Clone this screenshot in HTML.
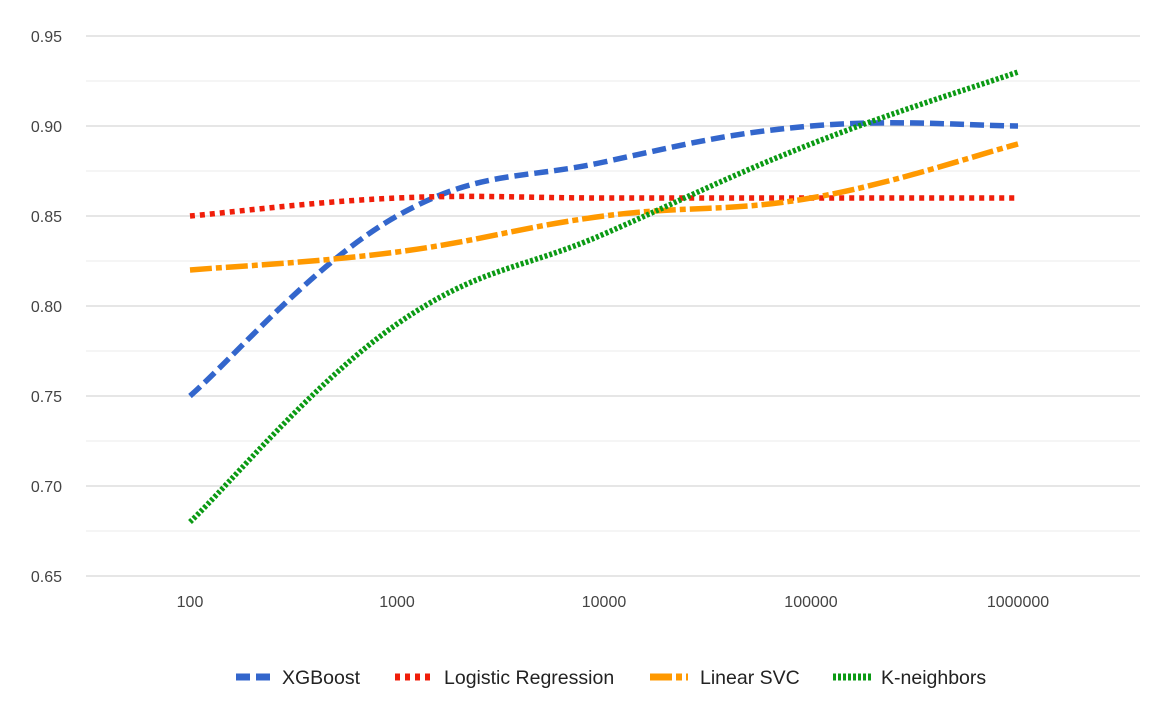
<!DOCTYPE html>
<html><head><meta charset="utf-8"><style>
body{margin:0;background:#fff;font-family:"Liberation Sans",Arial,sans-serif}
svg text{font-family:"Liberation Sans",Arial,sans-serif;fill:#444;font-size:16px}
</style></head><body>
<svg id="chart" width="1173" height="706" viewBox="0 0 1173 706" xmlns="http://www.w3.org/2000/svg">
<g id="grid"></g>
<g id="yaxis"></g>
<g id="xaxis"></g>
<g id="lines"></g>
<g id="legend"></g>
</svg>
<script>
const categories = ["100","1000","10000","100000","1000000"];
const xgboost = [0.75,0.85,0.88,0.90,0.90];
const logreg = [0.85,0.86,0.86,0.86,0.86];
const linearsvc = [0.82,0.83,0.85,0.86,0.89];
const kneighbors = [0.68,0.79,0.84,0.89,0.93];
const yTicks = [0.65,0.70,0.75,0.80,0.85,0.90,0.95];
const seriesNames = ["XGBoost","Logistic Regression","Linear SVC","K-neighbors"];

const NS="http://www.w3.org/2000/svg";
const yMin=0.65,yMax=0.95,yTop=36,yBot=576;
function yScale(v){return yBot-(v-yMin)/(yMax-yMin)*(yBot-yTop);}
function xScale(i){return 190+i*207;}
function mk(tag,attrs,parent){const e=document.createElementNS(NS,tag);for(const k in attrs)e.setAttribute(k,attrs[k]);parent.appendChild(e);return e;}
const grid=document.getElementById('grid'),ya=document.getElementById('yaxis'),xa=document.getElementById('xaxis'),lines=document.getElementById('lines'),leg=document.getElementById('legend');
for(let i=0;i<yTicks.length;i++){
  const v=yTicks[i],y=yScale(v);
  const l=mk('line',{x1:86,x2:1140,y1:y,y2:y,stroke:'#ccc','stroke-width':1},grid);
  
  
  if(i<yTicks.length-1){
    const m=yScale(v+0.025);
    const l2=mk('line',{x1:86,x2:1140,y1:m,y2:m,stroke:'#ebebeb','stroke-width':1},grid);
    
    
  }
  const t=mk('text',{x:62,y:y+6,'text-anchor':'end'},ya);
  t.textContent=v.toFixed(2);
  
  
}
for(let i=0;i<categories.length;i++){
  const t=mk('text',{x:xScale(i),y:607,'text-anchor':'middle'},xa);
  t.textContent=categories[i];
  
  
}
function smooth(vals){
  const p=vals.map((v,i)=>[xScale(i),yScale(v)]);
  let d='M'+p[0][0]+','+p[0][1];
  for(let i=0;i<p.length-1;i++){
    const p0=p[Math.max(0,i-1)],p1=p[i],p2=p[i+1],p3=p[Math.min(p.length-1,i+2)];
    const t=0.2;
    const c1=[p1[0]+(p2[0]-p0[0])*t,p1[1]+(p2[1]-p0[1])*t];
    const c2=[p2[0]-(p3[0]-p1[0])*t,p2[1]-(p3[1]-p1[1])*t];
    d+=' C'+c1+' '+c2+' '+p2;
  }
  return d;
}
const styles=[
 {data:xgboost,color:'#3366cc',dash:'14 6',name:'xgboost'},
 {data:logreg,color:'#f01e0a',dash:'5 5',name:'logistic-regression'},
 {data:linearsvc,color:'#ff9900',dash:'22 4 6 4',name:'linear-svc'},
 {data:kneighbors,color:'#0b9a14',dash:'3 2',name:'k-neighbors'}];
styles.forEach(s=>{
  const p=mk('path',{d:smooth(s.data),fill:'none',stroke:s.color,'stroke-width':5.5,'stroke-dasharray':s.dash},lines);
  
  
});
const legX=[[236,282],[395,444],[650,700],[833,881]];
styles.forEach((s,i)=>{
  const l=mk('line',{x1:legX[i][0],x2:legX[i][0]+38,y1:677,y2:677,stroke:s.color,'stroke-width':7,'stroke-dasharray':s.dash},leg);
  
  
  const t=mk('text',{x:legX[i][1],y:684},leg);
  t.setAttribute('style','fill:#222;font-size:19.5px');
  t.textContent=seriesNames[i];
  
  
});
</script>
</body></html>
